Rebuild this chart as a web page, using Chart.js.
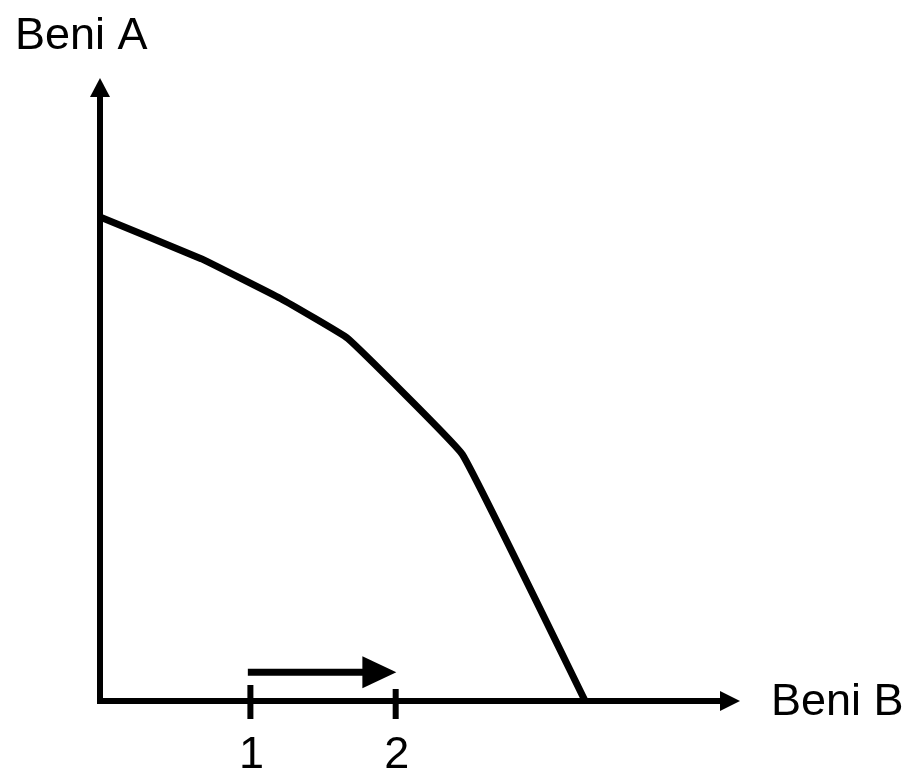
<!DOCTYPE html>
<html>
<head>
<meta charset="utf-8">
<script src="https://cdn.jsdelivr.net/npm/chart.js@4/dist/chart.umd.min.js"></script>
<style>
html,body{margin:0;padding:0;background:#fff;}
#wrap{width:909px;height:769px;position:relative;}
</style>
</head>
<body>
<div id="wrap"><canvas id="c" width="909" height="769"></canvas></div>
<script>
// Data (axis units 0..100)
const curveX = [0, 15.8, 28.2, 38.7, 56.6, 75.8];
const curveY = [77.7, 71.0, 64.6, 58.2, 39.6, 0];
const tickValues = [23.5, 46.2];
const tickLabels = ['1', '2'];
const shiftArrowX = [23.1, 41.0];   // shaft start, shaft end (head continues to tip)
const shiftArrowTip = 46.3;
const shiftArrowY = 4.6;
const axisLabels = ['Beni A', 'Beni B'];
const axisMax = 100;

const curveData = curveX.map((x, i) => ({x, y: curveY[i]}));

const FONT = '45px "Liberation Sans", Arial, sans-serif';

const drawPlugin = {
  id: 'decor',
  afterDatasetsDraw(chart) {
    const ctx = chart.ctx;
    const xs = chart.scales.x, ys = chart.scales.y;
    const X = v => xs.getPixelForValue(v), Y = v => ys.getPixelForValue(v);
    ctx.save();
    ctx.fillStyle = '#000';
    ctx.strokeStyle = '#000';
    // axes lines
    ctx.lineWidth = 6;
    ctx.lineCap = 'butt';
    ctx.beginPath();
    ctx.moveTo(X(0), Y(0) + 3);
    ctx.lineTo(X(0), Y(axisMax) + 15);
    ctx.moveTo(X(0) - 3, Y(0));
    ctx.lineTo(X(axisMax) - 15, Y(0));
    ctx.stroke();
    // y arrow head
    ctx.beginPath();
    ctx.moveTo(X(0), Y(axisMax));
    ctx.lineTo(X(0) - 10, Y(axisMax) + 19);
    ctx.lineTo(X(0) + 10, Y(axisMax) + 19);
    ctx.closePath(); ctx.fill();
    // x arrow head
    ctx.beginPath();
    ctx.moveTo(X(axisMax), Y(0));
    ctx.lineTo(X(axisMax) - 20, Y(0) - 10);
    ctx.lineTo(X(axisMax) - 20, Y(0) + 10);
    ctx.closePath(); ctx.fill();
    // tick marks
    ctx.lineWidth = 6;
    ctx.beginPath();
    ctx.moveTo(X(tickValues[0]), Y(0) - 16);
    ctx.lineTo(X(tickValues[0]), Y(0) + 18);
    ctx.moveTo(X(tickValues[1]), Y(0) - 12);
    ctx.lineTo(X(tickValues[1]), Y(0) + 18);
    ctx.stroke();
    // shift arrow
    ctx.lineWidth = 7;
    ctx.beginPath();
    ctx.moveTo(X(shiftArrowX[0]), Y(shiftArrowY));
    ctx.lineTo(X(shiftArrowX[1]) + 2, Y(shiftArrowY));
    ctx.stroke();
    ctx.beginPath();
    ctx.moveTo(X(shiftArrowTip), Y(shiftArrowY));
    ctx.lineTo(X(shiftArrowX[1]), Y(shiftArrowY) - 16);
    ctx.lineTo(X(shiftArrowX[1]), Y(shiftArrowY) + 16);
    ctx.closePath(); ctx.fill();
    // text
    ctx.font = FONT;
    ctx.textBaseline = 'alphabetic';
    ctx.textAlign = 'center';
    tickLabels.forEach((t, i) => ctx.fillText(t, X(tickValues[i]) + 1, Y(0) + 67));
    ctx.textAlign = 'left';
    ctx.fillText(axisLabels[0], 15, 49);
    ctx.fillText(axisLabels[1], 771, 715);
    ctx.restore();
  }
};

new Chart(document.getElementById('c'), {
  type: 'scatter',
  data: {
    datasets: [{
      data: curveData,
      showLine: true,
      borderColor: '#000',
      borderWidth: 7,
      borderJoinStyle: 'miter',
      pointRadius: 0,
      tension: 0.08,
      fill: false
    }]
  },
  options: {
    responsive: false,
    animation: false,
    layout: {padding: {left: 100, right: 169, top: 78, bottom: 68}},
    plugins: {legend: {display: false}, tooltip: {enabled: false}},
    scales: {
      x: {type: 'linear', min: 0, max: axisMax, display: false},
      y: {type: 'linear', min: 0, max: axisMax, display: false}
    }
  },
  plugins: [drawPlugin]
});
</script>
</body>
</html>
